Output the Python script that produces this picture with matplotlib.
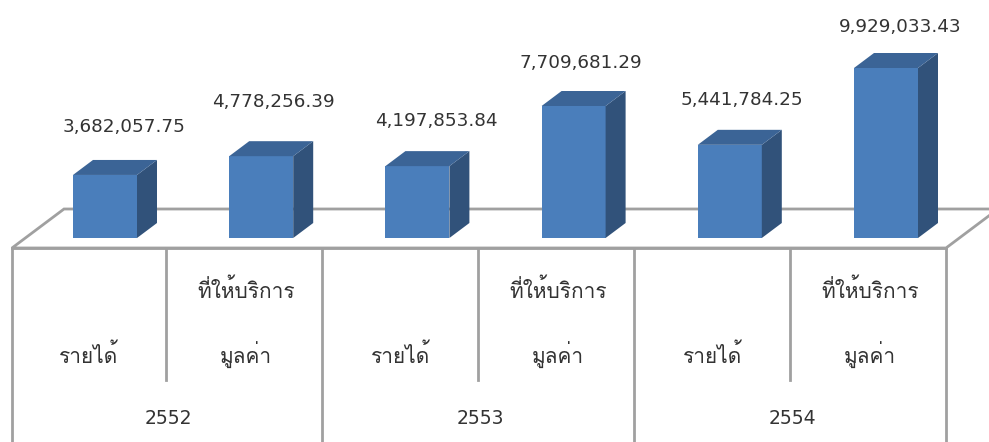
import matplotlib
matplotlib.use("Agg")
import matplotlib.pyplot as plt
from matplotlib.patches import Polygon

years = ["2552", "2553", "2554"]
series_top = "ที่ให้บริการ"
series_bottom = "มูลค่า"
income_label = "รายได้"
values = [3682057.75, 4778256.39, 4197853.84, 7709681.29, 5441784.25, 9929033.43]
value_labels = ["3,682,057.75", "4,778,256.39", "4,197,853.84",
                "7,709,681.29", "5,441,784.25", "9,929,033.43"]

plt.rcParams['font.family'] = ['DejaVu Sans', 'Loma']
thai_family = ['Loma', 'DejaVu Sans']

fig = plt.figure(figsize=(9.89, 4.42), dpi=100)
ax = fig.add_axes([0, 0, 1, 1])
ax.set_axis_off()

base_px = 238.0
k = 170.0 / max(values)  # pixels per unit


def py(p):
    return (base_px - p) / k


ax.set_xlim(0, 989)
ax.set_ylim(py(442), py(0))

front = "#4A7EBB"
side = "#31527A"
top = "#3B6496"
grid = "#A0A0A0"
txt = "#333333"
dx = 20
dy = 15 / k

# floor
floor = Polygon([(12, py(248)), (64, py(209)), (998, py(209)), (946, py(248))],
                closed=True, facecolor="white", edgecolor=grid, lw=2, zorder=1)
ax.add_patch(floor)

# bars
step = 156.2
width = 64
lefts = [73 + step * i for i in range(len(values))]
# label placement (px from the bar's front top-left corner), as Excel put them
lab_off = [(51, 48), (44, 54), (51, 45), (39, 43), (44, 45), (46, 41)]
ax.bar(lefts, values, width=width, align="edge", color=front, zorder=3)
for x0, v, lab, (ox, oy) in zip(lefts, values, value_labels, lab_off):
    ax.add_patch(Polygon([(x0 + width, 0), (x0 + width + dx, dy),
                          (x0 + width + dx, v + dy), (x0 + width, v)],
                         closed=True, facecolor=side, edgecolor="none", zorder=3))
    ax.add_patch(Polygon([(x0, v), (x0 + dx, v + dy), (x0 + width + dx, v + dy),
                          (x0 + width, v)],
                         closed=True, facecolor=top, edgecolor="none", zorder=3))
    ax.text(x0 + ox, v + oy / k, lab, ha="center", va="center",
            fontsize=13.2, color=txt, zorder=4)

# category table
ax.plot([12, 946], [py(248), py(248)], color=grid, lw=2, zorder=2)
for x in [12, 322, 634, 946]:
    ax.plot([x, x], [py(248), py(445)], color=grid, lw=2, zorder=2)
for x in [166, 478, 790]:
    ax.plot([x, x], [py(248), py(380)], color=grid, lw=2, zorder=2)

for i, yr in enumerate(years):
    left = 12 + 312 * i
    ax.text(left + 77, py(355), income_label, ha="center", va="center",
            fontsize=15, color=txt, family=thai_family)
    ax.text(left + 234, py(290), series_top, ha="center", va="center",
            fontsize=15, color=txt, family=thai_family)
    ax.text(left + 234, py(355), series_bottom, ha="center", va="center",
            fontsize=15, color=txt, family=thai_family)
    ax.text(left + 156, py(418), yr, ha="center", va="center",
            fontsize=13.5, color=txt)

fig.savefig("out.png", dpi=100)
